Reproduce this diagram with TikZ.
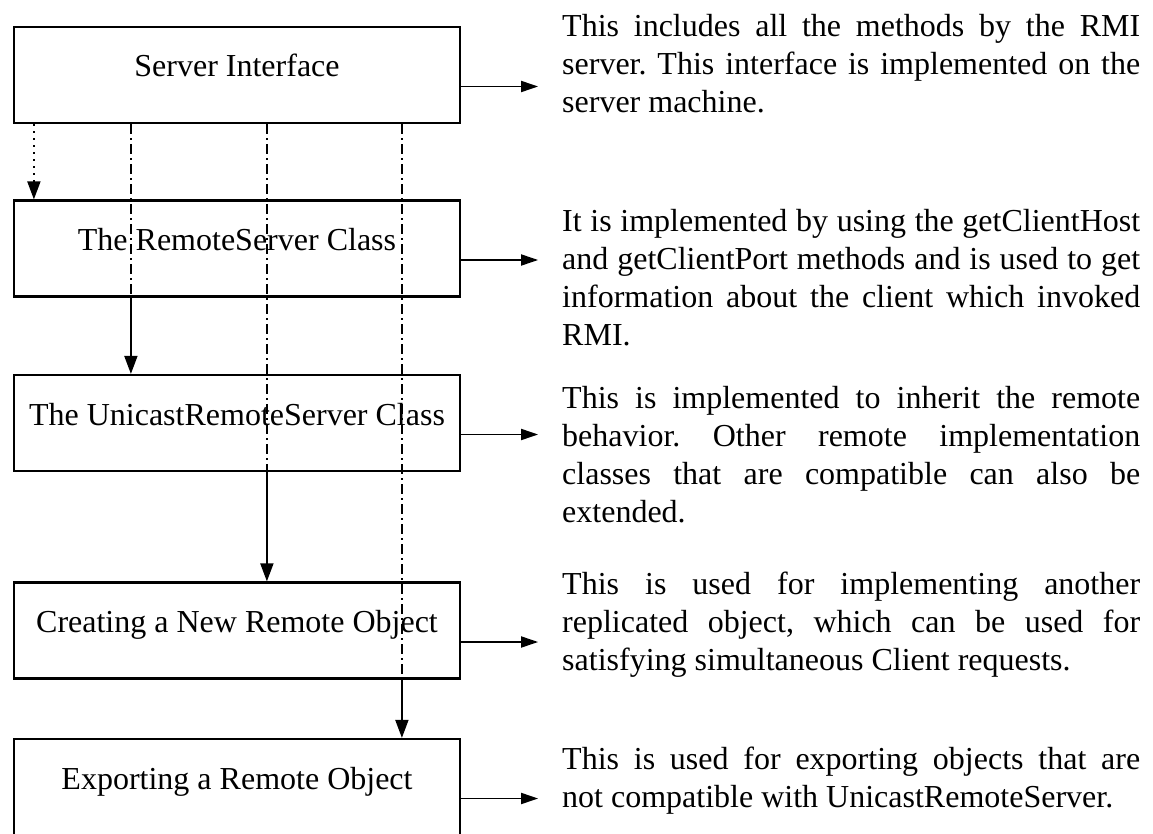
\documentclass[tikz,border=0pt]{standalone}
\usepackage{fontspec}
\setmainfont{Liberation Serif}
\usetikzlibrary{arrows.meta}
\newcommand\jl[1]{\hbox to 578pt{#1}}
\newcommand\lastl[1]{\hbox{#1}}
\frenchspacing
\begin{document}
\begin{tikzpicture}[x=1pt,y=-1pt,
  box/.style={draw, line width=2.2pt, minimum width=446pt, minimum height=96pt,
    inner sep=0pt, text height=20pt, text depth=16pt,
    font=\fontsize{32}{38}\selectfont},
  desc/.style={anchor=base west, inner sep=0pt, font=\fontsize{32}{38}\selectfont},
  dashdot/.style={line width=1.5pt, dash pattern=on 10pt off 4pt on 2pt off 4pt},
  dotline/.style={line width=1.8pt, dash pattern=on 2pt off 5pt, -{Triangle[length=18pt,width=13pt]}},
  varrow/.style={line width=1.8pt, -{Triangle[length=18pt,width=13pt]}},
  harrow/.style={line width=1.8pt, -{Triangle[length=17pt,width=11pt]}}]
\useasboundingbox (0,0) rectangle (1153,834);

\node[box] (b1) at (237,75) {Server Interface};
\node[box] (b2) at (237,248.5) {The RemoteServer Class};
\node[box] (b3) at (237,423) {The UnicastRemoteServer Class};
\node[box] (b4) at (237,630.5) {Creating a New Remote Object};
\node[box] (b5) at (237,787) {Exporting a Remote Object};

% dotted arrow
\draw[dotline] ([xshift=21pt]b1.south west) -- ([xshift=21pt]b2.north west);

% dash-dot lines and solid arrows
\draw[dashdot] ([xshift=118pt]b1.south west) -- ([xshift=118pt]b2.south west);
\draw[varrow] ([xshift=118pt]b2.south west) -- ([xshift=118pt]b3.north west);
\draw[dashdot] ([xshift=254pt]b1.south west) -- ([xshift=254pt]b3.south west);
\draw[varrow] ([xshift=254pt]b3.south west) -- ([xshift=254pt]b4.north west);
\draw[dashdot] ([xshift=389pt]b1.south west) -- ([xshift=389pt]b4.south west);
\draw[varrow] ([xshift=389pt]b4.south west) -- ([xshift=389pt]b5.north west);

% horizontal arrows
\foreach \b in {b1,b2,b3,b4,b5}
  \draw[harrow] ([yshift=-11.5pt]\b.east) -- ([yshift=-11.5pt,xshift=77pt]\b.east);

\node[desc] (d1) at (562,37) {\vtop{%
  \jl{This includes all the methods by the RMI}%
  \jl{server. This interface is implemented on the}%
  \lastl{server machine.}}};
\node[desc] (d2) at (562,232) {\vtop{%
  \jl{It is implemented by using the getClientHost}%
  \jl{and getClientPort methods and is used to get}%
  \jl{information about the client which invoked}%
  \lastl{RMI.}}};
\node[desc] (d3) at (562,408) {\vtop{%
  \jl{This is implemented to inherit the remote}%
  \jl{behavior. Other remote implementation}%
  \jl{classes that are compatible can also be}%
  \lastl{extended.}}};
\node[desc] (d4) at (562,594) {\vtop{%
  \jl{This is used for implementing another}%
  \jl{replicated object, which can be used for}%
  \lastl{satisfying simultaneous Client requests.}}};
\node[desc] (d5) at (562,769) {\vtop{%
  \jl{This is used for exporting objects that are}%
  \lastl{not compatible with UnicastRemoteServer.}}};
\end{tikzpicture}
\end{document}
